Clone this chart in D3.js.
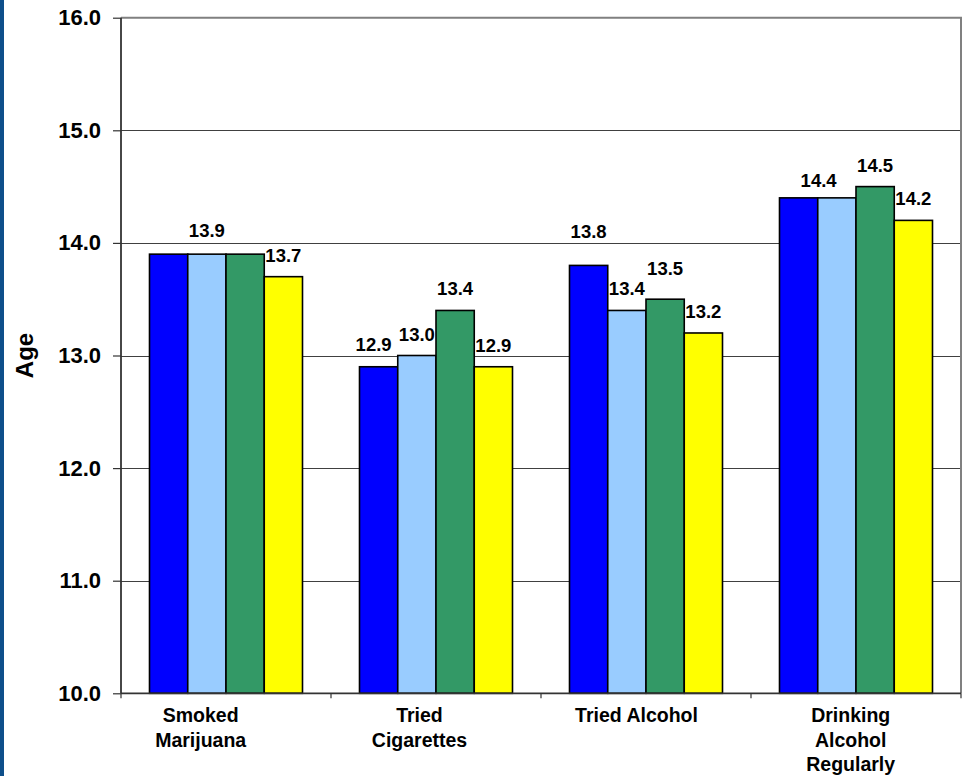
<!DOCTYPE html>
<html>
<head>
<meta charset="utf-8">
<script src="https://cdn.jsdelivr.net/npm/d3@7"></script>
<style>
  html, body { margin: 0; padding: 0; background: #fff; }
  svg { display: block; }
  text { font-family: "Liberation Sans", Arial, sans-serif; font-weight: bold; fill: #000; }
</style>
</head>
<body>
<svg id="chart" width="963" height="776"></svg>
<script>
// ---- data ----
const categories = [["Smoked", "Marijuana"], ["Tried", "Cigarettes"], ["Tried Alcohol"], ["Drinking", "Alcohol", "Regularly"]];
const seriesNames = ["Series 1", "Series 2", "Series 3", "Series 4"];
const series1 = [13.9, 12.9, 13.8, 14.4];
const series2 = [13.9, 13.0, 13.4, 14.4];
const series3 = [13.9, 13.4, 13.5, 14.5];
const series4 = [13.7, 12.9, 13.2, 14.2];
const yTicks = [10, 11, 12, 13, 14, 15, 16];
const yTitle = "Age";

// ---- layout / style ----
const colors = ["#0000FF", "#99CCFF", "#339966", "#FFFF00"];
const plotLeft = 121, plotRight = 961, plotTop = 17.7, plotBottom = 693.3;
const allSeries = [series1, series2, series3, series4];
// horizontal shift of category label blocks (as placed in the original)
const catLabelShift = [-25.3, -16.5, -9.5, -5.3];

// label placement tweaks (like the original's overlapping-label handling): [cat][series] -> null hides, else {dx, dy}
const labelPlace = [
  [null, {dx: 0, dy: -17}, null, {dx: 0, dy: -15}],
  [{dx: -5, dy: -16}, {dx: 0, dy: -15}, {dx: 0, dy: -15}, {dx: 0, dy: -15}],
  [{dx: 0, dy: -27}, {dx: 0, dy: -15}, {dx: 0, dy: -24}, {dx: 0, dy: -15}],
  [{dx: 20, dy: -11}, null, {dx: 0, dy: -15}, {dx: 0, dy: -15}]
];

const svg = d3.select("#chart");

// left dark strip
svg.append("rect").attr("x", 0).attr("y", 0).attr("width", 4).attr("height", 776).attr("fill", "#0E4F8A");

const catIdx = categories.map((c, i) => i);
const x0 = d3.scaleBand().domain(catIdx).range([plotLeft, plotRight])
  .paddingInner(57 / 210).paddingOuter(57 / 420);
const x1 = d3.scaleBand().domain(d3.range(seriesNames.length)).range([0, x0.bandwidth()]).padding(0);
const y = d3.scaleLinear().domain([10, 16]).range([plotBottom, plotTop]);

// gridlines
svg.append("g").selectAll("line").data(yTicks.filter(t => t > 10 && t < 16)).join("line")
  .attr("x1", plotLeft).attr("x2", plotRight)
  .attr("y1", d => Math.round(y(d)) + 0.5).attr("y2", d => Math.round(y(d)) + 0.5)
  .attr("stroke", "#404040").attr("stroke-width", 1);

// plot frame top & right (gray)
svg.append("path")
  .attr("d", `M${plotLeft},${y(16)}H${plotRight}V${plotBottom}`)
  .attr("fill", "none").attr("stroke", "#808080").attr("stroke-width", 2);

// bars
const barData = [];
catIdx.forEach(ci => allSeries.forEach((s, si) => barData.push({ci, si, v: s[ci]})));
svg.append("g").selectAll("rect").data(barData).join("rect")
  .attr("x", d => x0(d.ci) + x1(d.si))
  .attr("y", d => y(d.v))
  .attr("width", x1.bandwidth())
  .attr("height", d => y(10) - y(d.v))
  .attr("fill", d => colors[d.si])
  .attr("stroke", "#000").attr("stroke-width", 1.6);

// value labels
svg.append("g").selectAll("text").data(barData.filter(d => labelPlace[d.ci][d.si])).join("text")
  .attr("x", d => x0(d.ci) + x1(d.si) + x1.bandwidth() / 2 + labelPlace[d.ci][d.si].dx)
  .attr("y", d => y(d.v) + labelPlace[d.ci][d.si].dy)
  .attr("text-anchor", "middle")
  .style("font-size", "18.5px")
  .text(d => d3.format(".1f")(d.v));

// y axis
const yAxis = d3.axisLeft(y).tickValues(yTicks).tickFormat(d3.format(".1f")).tickSize(8).tickPadding(12);
const gy = svg.append("g").attr("transform", `translate(${plotLeft},0)`).call(yAxis);
gy.select(".domain").attr("stroke", "#333").attr("stroke-width", 1.8).attr("d", `M0,${y(16)}V${plotBottom}`);
gy.selectAll(".tick line").attr("stroke", "#333").attr("stroke-width", 1.2);
gy.selectAll(".tick text").style("font-size", "22px").style("font-family", "'Liberation Sans', Arial, sans-serif").style("font-weight", "bold").attr("fill", "#000");

// x axis line and ticks at category boundaries
const boundaries = catIdx.map(i => x0(i) - x0.step() * x0.paddingInner() / 2).concat([plotRight]);
svg.append("line").attr("x1", plotLeft).attr("x2", plotRight).attr("y1", plotBottom).attr("y2", plotBottom)
  .attr("stroke", "#333").attr("stroke-width", 1.8);
svg.append("g").selectAll("line").data(boundaries).join("line")
  .attr("x1", d => d).attr("x2", d => d).attr("y1", plotBottom).attr("y2", plotBottom + 5)
  .attr("stroke", "#333").attr("stroke-width", 1.2);

// category labels
const catX = i => x0(i) + x0.bandwidth() / 2 + catLabelShift[i];
const catG = svg.append("g").selectAll("text").data(categories).join("text")
  .attr("text-anchor", "middle")
  .style("font-size", "19.5px")
  .attr("x", (d, i) => catX(i))
  .attr("y", 722);
catG.selectAll("tspan").data((d, i) => d.map(line => ({line, i}))).join("tspan")
  .attr("x", d => catX(d.i))
  .attr("dy", (d, j) => j === 0 ? 0 : 24.5)
  .text(d => d.line);

// y title
svg.append("text")
  .attr("transform", `translate(33,${(plotTop + plotBottom) / 2}) rotate(-90)`)
  .attr("text-anchor", "middle")
  .style("font-size", "24px")
  .text(yTitle);
</script>
</body>
</html>
